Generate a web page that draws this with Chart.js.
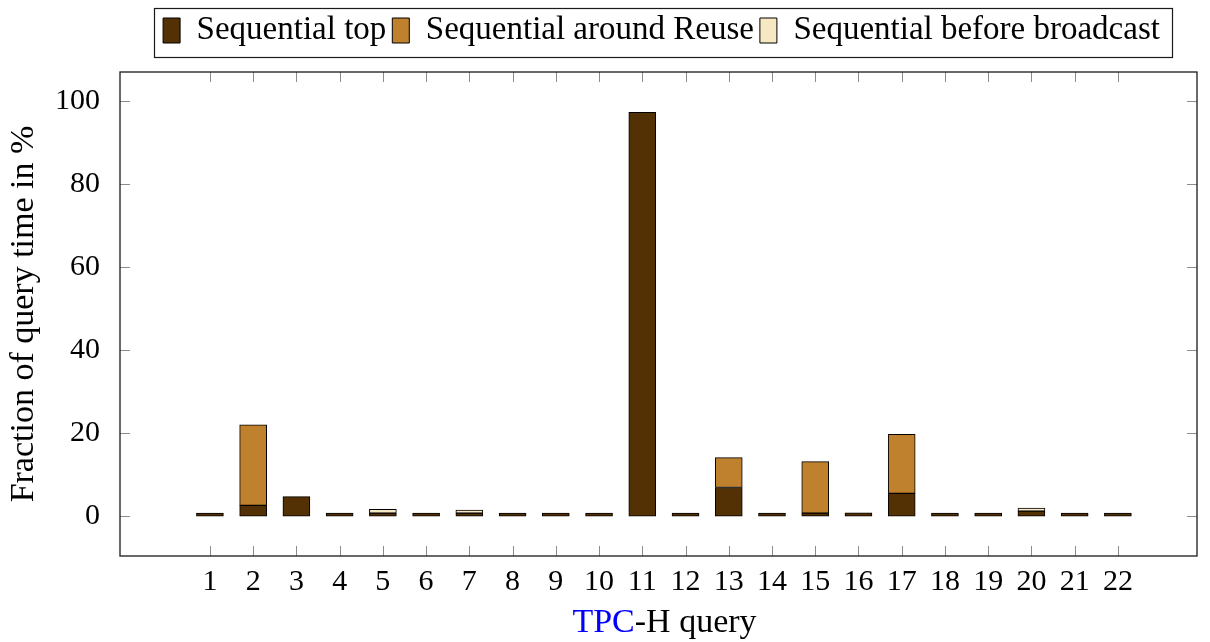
<!DOCTYPE html>
<html>
<head>
<meta charset="utf-8">
<script src="https://cdn.jsdelivr.net/npm/chart.js@4/dist/chart.umd.min.js"></script>
<style>
  html, body { margin: 0; padding: 0; background: #fff; }
  #wrap { width: 1210px; height: 642px; position: relative; }
</style>
</head>
<body>
<div id="wrap"><canvas id="queryChart"></canvas></div>
<script>
// TPC-H queries and the share of query time spent in each sequential section (%)
const queries = [1, 2, 3, 4, 5, 6, 7, 8, 9, 10, 11, 12, 13, 14, 15, 16, 17, 18, 19, 20, 21, 22];
const seqTop = [0.3, 2.6, 4.7, 0.2, 0.1, 0.15, 0.1, 0.05, 0.05, 0.05, 97.3, 0.4, 6.9, 0.05, 0.1, 0.8, 5.5, 0.05, 0.05, 1.2, 0.2, 0.05];
const seqAroundReuse = [null, 19.4, null, null, null, null, null, null, null, null, null, null, 7.2, null, 12.4, null, 14.2, null, null, null, null, null];
const seqBeforeBroadcast = [null, null, null, null, 0.9, null, 0.5, null, null, null, null, null, null, null, null, null, null, null, null, 0.65, null, null];
const yTicks = [0, 20, 40, 60, 80, 100];

const serif = "'Liberation Serif', 'DejaVu Serif', serif";
const TICK = 10;
const LEGEND_FONT = 33;
const LEGEND_PAD = 6;

const toPoints = vals => queries.map((q, i) => ({ x: q, y: vals[i] }));

// box frame, inward ticks, legend border and the two-colour x title
const framePlugin = {
  id: 'framePlugin',
  afterLayout(chart) {
    // centre the legend over the plot area instead of the whole canvas
    const lg = chart.legend, a = chart.chartArea;
    const shift = (a.left + a.right) / 2 + 3 - (lg.left + lg.right) / 2;
    lg.left += shift;
    lg.right += shift;
    (lg.legendHitBoxes || []).forEach(h => { h.left += shift; });
  },
  afterDraw(chart) {
    const { ctx, chartArea: a, scales: { x, y } } = chart;
    ctx.save();

    ctx.strokeStyle = '#8c8c8c';
    ctx.lineWidth = 1;
    ctx.beginPath();
    x.ticks.forEach(t => {
      const px = Math.round(x.getPixelForValue(t.value)) + 0.5;
      ctx.moveTo(px, a.bottom); ctx.lineTo(px, a.bottom - TICK);
      ctx.moveTo(px, a.top); ctx.lineTo(px, a.top + TICK);
    });
    y.ticks.forEach(t => {
      const py = Math.round(y.getPixelForValue(t.value)) + 0.5;
      ctx.moveTo(a.left, py); ctx.lineTo(a.left + TICK, py);
      ctx.moveTo(a.right, py); ctx.lineTo(a.right - TICK, py);
    });
    ctx.stroke();

    ctx.strokeStyle = '#1a1a1a';
    ctx.lineWidth = 1.3;
    ctx.strokeRect(a.left, a.top, a.width, a.height);

    const lg = chart.legend;
    const hb = lg.legendHitBoxes;
    if (hb && hb.length) {
      const l = hb[0].left - 9;
      const last = hb[hb.length - 1];
      const r = last.left + last.width + 12;
      const mid = lg.top + LEGEND_PAD + LEGEND_FONT / 2;
      ctx.lineWidth = 1.2;
      ctx.strokeRect(Math.round(l) + 0.5, Math.round(mid - 23) + 0.5, Math.round(r - l), 49);
    }

    ctx.font = '34px ' + serif;
    ctx.textBaseline = 'alphabetic';
    const partA = 'TPC', partB = '-H query';
    const wA = ctx.measureText(partA).width, wB = ctx.measureText(partB).width;
    const cx = (a.left + a.right) / 2 + 6;
    const startX = cx - (wA + wB) / 2;
    const baseY = 632;
    ctx.textAlign = 'left';
    ctx.fillStyle = '#0000ff';
    ctx.fillText(partA, startX, baseY);
    ctx.fillStyle = '#000';
    ctx.fillText(partB, startX + wA, baseY);
    ctx.restore();
  }
};

const barStyle = {
  borderColor: '#000',
  borderWidth: 1,
  borderSkipped: false,
  barThickness: 27,
  minBarLength: 3
};

new Chart(document.getElementById('queryChart'), {
  type: 'bar',
  data: {
    datasets: [
      { label: 'Sequential top', data: toPoints(seqTop), backgroundColor: '#543005', ...barStyle },
      { label: 'Sequential around Reuse', data: toPoints(seqAroundReuse), backgroundColor: '#bf812d', ...barStyle },
      { label: 'Sequential before broadcast', data: toPoints(seqBeforeBroadcast), backgroundColor: '#f6e8c3', ...barStyle }
    ]
  },
  options: {
    responsive: true,
    maintainAspectRatio: false,
    animation: false,
    layout: { padding: { left: 0, right: 13, top: 8, bottom: 0 } },
    plugins: {
      tooltip: { enabled: false },
      legend: {
        position: 'top',
        align: 'center',
        labels: {
          color: '#000',
          font: { family: serif, size: LEGEND_FONT },
          boxWidth: 17,
          boxHeight: 25,
          padding: LEGEND_PAD
        }
      }
    },
    scales: {
      x: {
        type: 'linear',
        stacked: true,
        offset: false,
        min: -1.08,
        max: 23.83,
        grid: { display: false },
        border: { display: false },
        afterBuildTicks: s => { s.ticks = queries.map(v => ({ value: v })); },
        afterFit: s => { s.height = 86; },
        ticks: {
          color: '#000',
          font: { family: serif, size: 30 },
          padding: 0,
          maxRotation: 0,
          autoSkip: false,
          callback: v => String(v)
        },
        title: { display: false }
      },
      // empty band between the legend and the plot frame
      gap: {
        type: 'linear',
        position: 'top',
        grid: { display: false },
        border: { display: false },
        ticks: { display: false },
        afterFit: s => { s.height = 15; }
      },
      y: {
        stacked: true,
        min: -9.6,
        max: 107,
        grid: { display: false },
        border: { display: false },
        afterBuildTicks: s => { s.ticks = yTicks.map(v => ({ value: v })); },
        afterFit: s => { s.width = 120; },
        ticks: {
          color: '#000',
          font: { family: serif, size: 30 },
          padding: 12
        },
        title: {
          display: true,
          text: 'Fraction of query time in %',
          color: '#000',
          font: { family: serif, size: 34 },
          padding: { top: 4, bottom: 0 }
        }
      }
    }
  },
  plugins: [framePlugin]
});
</script>
</body>
</html>
